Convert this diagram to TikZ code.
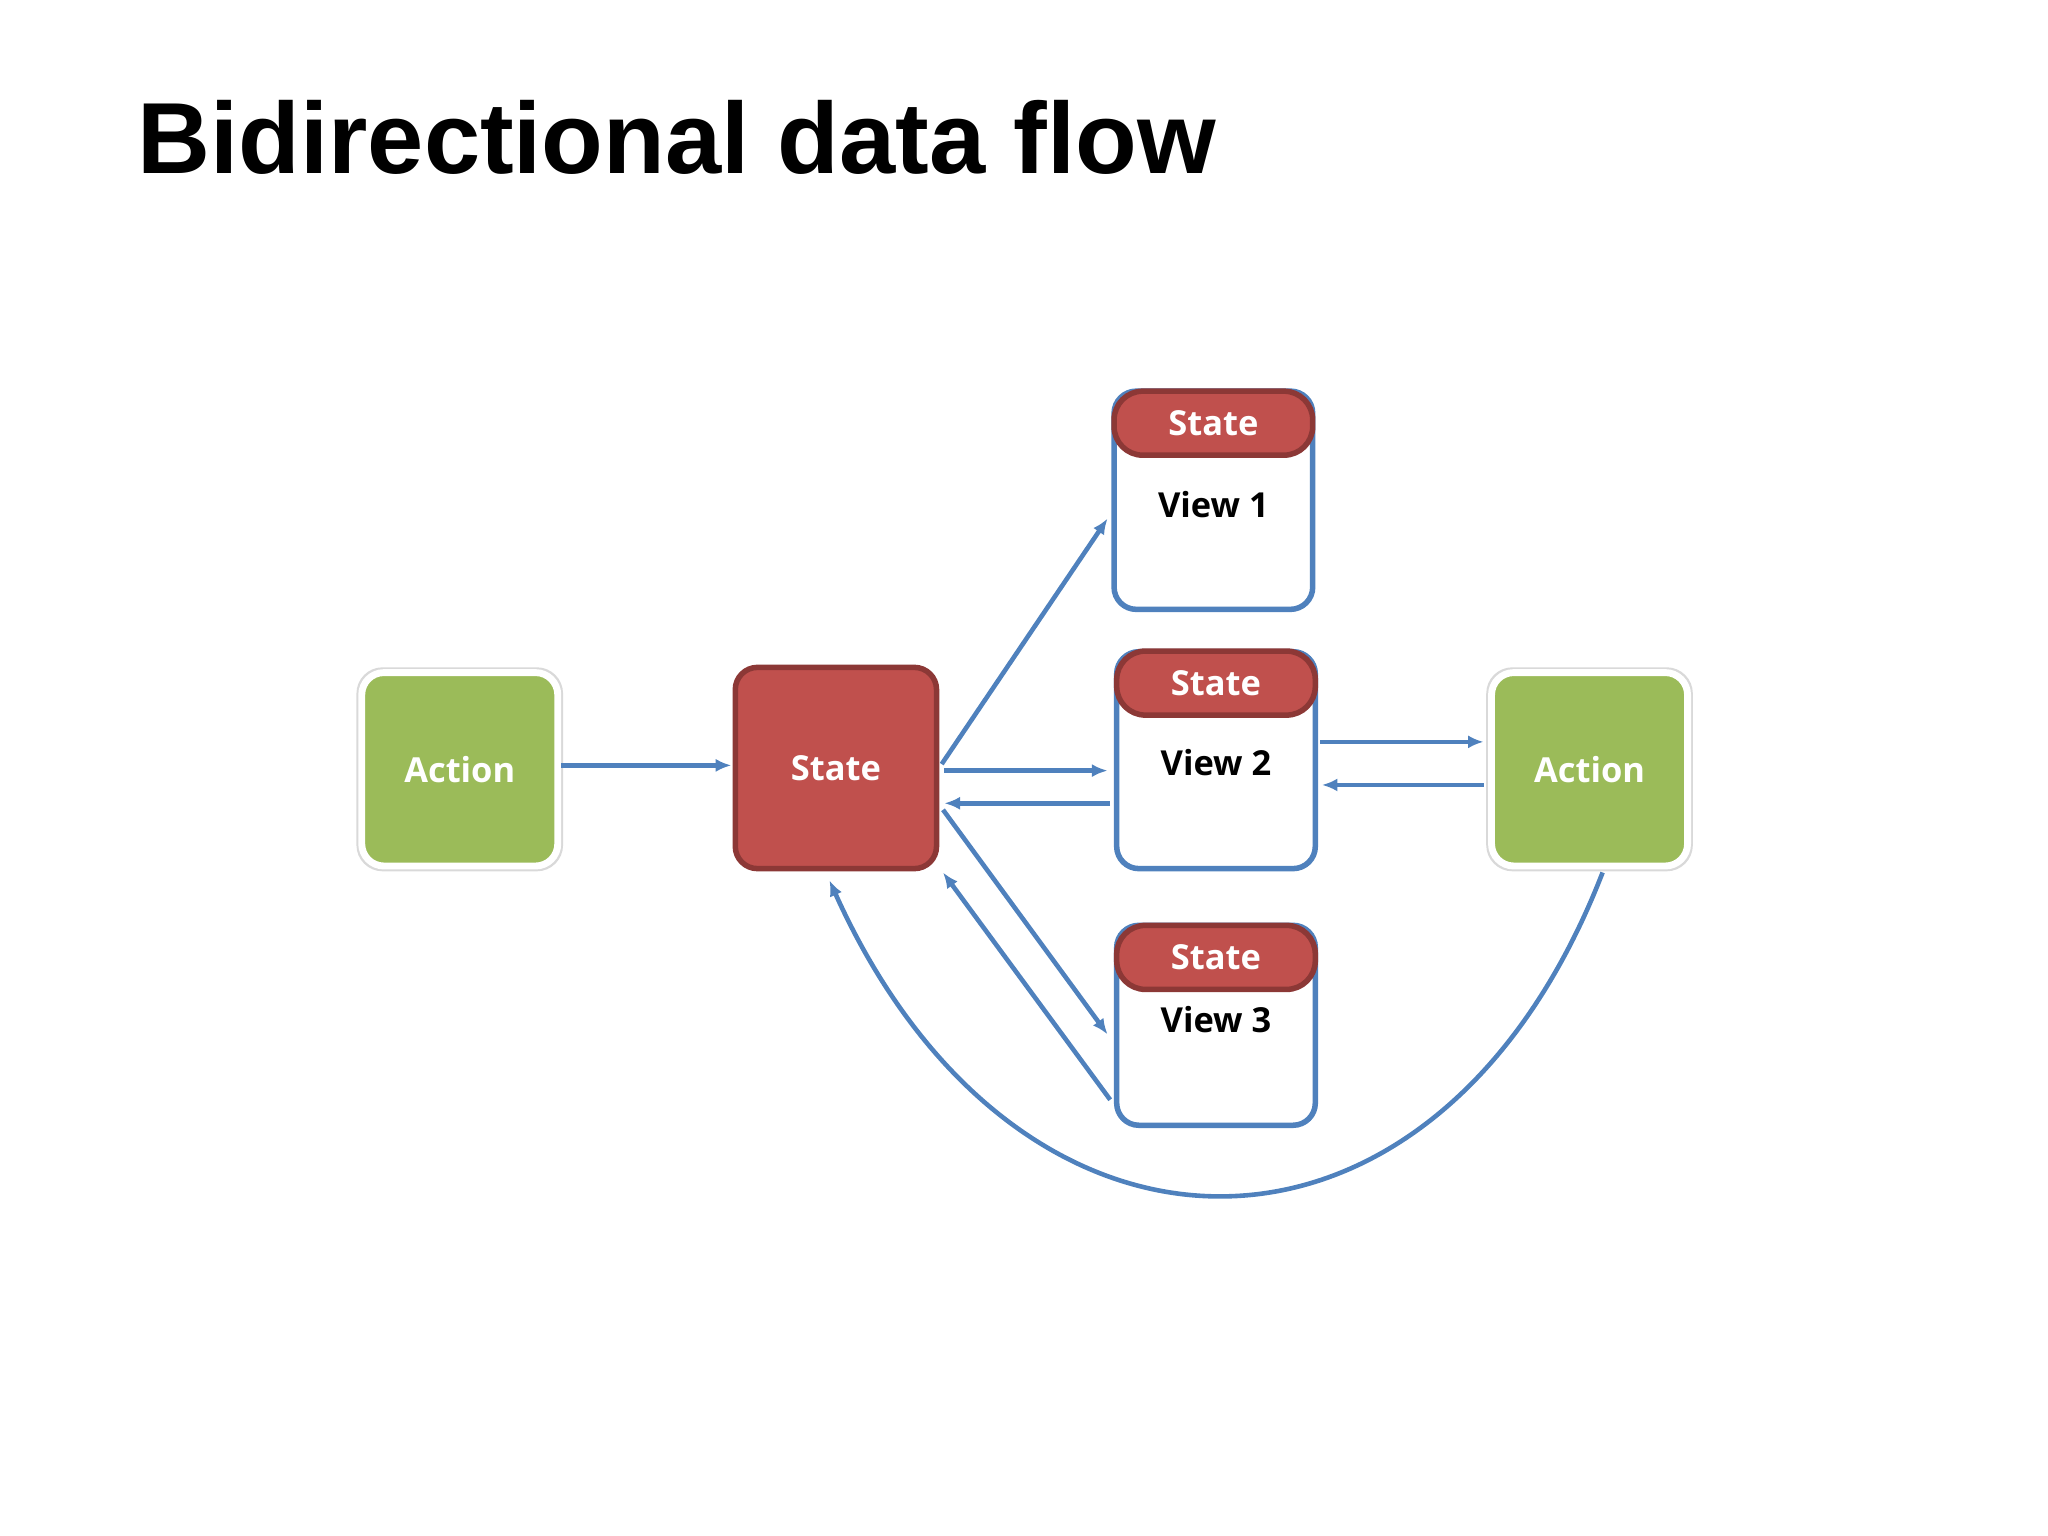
\documentclass[tikz,border=0pt]{standalone}
\usepackage{fontspec}
\setmainfont{Liberation Sans}
\newfontfamily\boxf{Open Sans}
\usetikzlibrary{arrows.meta}
\definecolor{grn}{HTML}{9BBB59}
\definecolor{rd}{HTML}{C0504D}
\definecolor{rdd}{HTML}{8C3836}
\definecolor{bl}{HTML}{4F81BD}
\begin{document}
\begin{tikzpicture}[x=0.01cm,y=-0.01cm,
 act/.style={draw=white,line width=1.5pt,fill=grn,rounded corners=0.17cm,minimum width=1.5cm,minimum height=1.48cm,text=white,font=\boxf\fontsize{7.5pt}{9pt}\selectfont,drop shadow/.style={}},
 st/.style={draw=rdd,line width=1.2pt,fill=rd,rounded corners=0.17cm,minimum width=1.54cm,minimum height=1.54cm,text=white,font=\boxf\fontsize{7.5pt}{9pt}\selectfont},
 view/.style={draw=bl,line width=1.2pt,fill=white,rounded corners=0.17cm,minimum width=1.52cm},
 hdr/.style={draw=rdd,line width=1.2pt,fill=rd,rounded corners=0.22cm,minimum width=1.52cm,minimum height=0.49cm,text=white,font=\boxf\fontsize{7.5pt}{9pt}\selectfont},
 lbl/.style={font=\boxf\bfseries\fontsize{7.5pt}{9pt}\selectfont},
 ar/.style={draw=bl,line width=1pt,-{Latex[length=0.12cm,width=0.1cm]}}]
\useasboundingbox (0,0) rectangle (1568,1176);
\node[anchor=base west,font=\bfseries\fontsize{22pt}{26pt}\selectfont] (title) at (93,133) {Bidirectional data flow};
\node[draw=black!15,line width=0.6pt,rounded corners=0.19cm,minimum width=1.56cm,minimum height=1.54cm] (al0) at (352,589) {};
\node[act] (al) at (352,589) {\bfseries Action};
\node[draw=black!15,line width=0.6pt,rounded corners=0.19cm,minimum width=1.56cm,minimum height=1.54cm] (ar0) at (1217,589) {};
\node[act] (arr) at (1217,589) {\bfseries Action};
\node[st] (s) at (640,588) {\bfseries State};
\node[view,minimum height=1.67cm] (v1) at (929,383) {};
\node[hdr] (h1) at (929,324) {\bfseries State};
\node[lbl] (l1) at (929,386) {View 1};
\node[view,minimum height=1.66cm] (v2) at (931,582) {};
\node[hdr] (h2) at (931,523) {\bfseries State};
\node[lbl] (l2) at (931,584) {View 2};
\node[view,minimum height=1.53cm] (v3) at (931,785) {};
\node[hdr] (h3) at (931,733) {\bfseries State};
\node[lbl] (l3) at (931,781) {View 3};
\draw[ar] (al.east|-0,586) -- (560,586) coordinate (x1);
\draw[ar] (721,585) -- (848,397);
\draw[ar] (723,590) -- (848,590);
\draw[ar] (850,615) -- (723,615);
\draw[ar] (722,620) -- (848,792);
\draw[ar] (850,842) -- (722,668);
\draw[ar] (1011,568) -- (1136,568);
\draw[ar] (1136,601) -- (1012,601);
\draw[ar] (1227,668) .. controls (1100,996) and (780,996) .. (635,674);
\end{tikzpicture}
\end{document}
